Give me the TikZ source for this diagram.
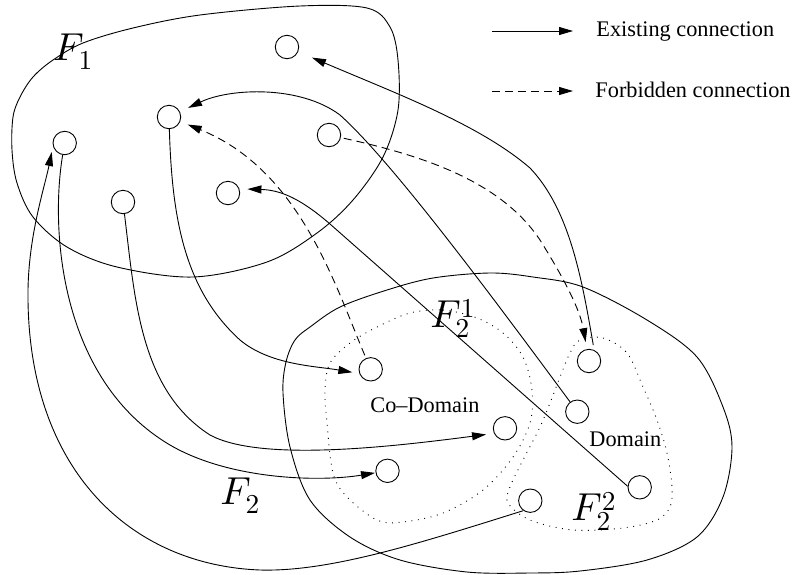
\documentclass[tikz,border=0pt]{standalone}
\usepackage{fontspec}
\setmainfont{Liberation Serif}
\DeclareFontShape{OML}{cmm}{m}{it}{<->cmmi10}{}
\DeclareFontShape{OT1}{cmr}{m}{n}{<->cmr10}{}
\usetikzlibrary{arrows.meta}
\begin{document}
\begin{tikzpicture}[x=1pt,y=-1pt,line width=0.9pt,
  pt/.style={circle,draw,minimum size=23.4pt,inner sep=0pt},
  exist/.style={-{Triangle[length=14pt,width=8pt]}},
  forbid/.style={exist,dash pattern=on 8pt off 5pt},
  dotreg/.style={dash pattern=on 0.9pt off 5.6pt},
  lbl/.style={inner sep=0pt,anchor=base west,font=\fontsize{39}{44}\selectfont},
  txt/.style={inner sep=0pt,anchor=base west,font=\fontsize{22.3}{26}\selectfont}]
\useasboundingbox (0,0) rectangle (795,574);
% regions
\draw plot[smooth cycle,tension=0.55] coordinates {(200,15) (300,6) (367,8) (390,27) (398,60) (398,110) (383,157) (353,200) (317,233) (267,262) (193,277) (117,267) (67,247) (33,217) (17,183) (12,150) (13,117) (20,97) (33,77) (53,60) (83,43) (133,28)};
\draw plot[smooth cycle,tension=0.55] coordinates {(283,393) (290,447) (310,500) (350,537) (400,560) (467,572) (530,573) (580,571) (647,560) (697,537) (723,497) (732,447) (723,407) (697,357) (647,320) (583,287) (533,277) (490,273) (433,278) (387,290) (340,307) (310,327) (295,340) (286,362)};
\draw[dotreg] plot[smooth cycle,tension=0.55] coordinates {(410,313) (443,310) (477,318) (503,333) (523,357) (532,390) (530,423) (513,457) (483,490) (443,513) (403,522) (377,520) (347,497) (333,473) (327,423) (325,390) (330,363) (350,343) (377,327)};
\draw[dotreg] plot[smooth cycle,tension=0.55] coordinates {(580,340) (603,338) (627,353) (643,387) (657,420) (667,453) (672,487) (670,507) (657,520) (623,528) (573,530) (530,520) (508,503) (510,487) (523,460) (540,427) (550,403) (560,377) (570,353)};
% labels
\node[lbl] (F1) at (53,60) {$F_1$};
\node[lbl] (F2) at (220,504) {$F_2$};
\node[lbl] (F21) at (430,327) {$F_2^1$};
\node[lbl] (F22) at (571,520) {$F_2^2$};
\node[txt] (cod) at (370,412) {Co--Domain};
\node[txt] (dom) at (589,446) {Domain};
% points
\node[pt] (a1) at (287,47) {};
\node[pt] (a2) at (169,117) {};
\node[pt] (a3) at (64.7,143) {};
\node[pt] (a4) at (329,135) {};
\node[pt] (a5) at (123,202) {};
\node[pt] (a6) at (228,193) {};
\node[pt] (b1) at (370.7,369.3) {};
\node[pt] (b2) at (505,428.3) {};
\node[pt] (b3) at (387.5,470.8) {};
\node[pt] (b4) at (589,361) {};
\node[pt] (b5) at (577.3,411.7) {};
\node[pt] (b6) at (639.7,487.3) {};
\node[pt] (b7) at (530.3,500.7) {};
% connections
\draw[exist,shorten <=5pt,shorten >=15pt] (b4.65) .. controls (582,280) and (570,210) .. (530,168) .. controls (480,125) and (400,95) .. (a1);
\draw[exist,shorten >=9pt] (b5) .. controls (480,280) and (390,160) .. (340,115) .. controls (300,85) and (230,88) .. (a2);
\draw[forbid,shorten <=3pt,shorten >=8pt] (b1) .. controls (335,285) and (300,170) .. (a2);
\draw[forbid,shorten <=3pt,shorten >=7pt] (a4) .. controls (420,155) and (500,180) .. (540,240) .. controls (565,280) and (580,310) .. (b4);
\draw[exist,shorten >=8pt] (b6.175) -- (330,224) .. controls (300,198) and (280,190) .. (a6.20);
\draw[exist,shorten >=7pt] (a2) .. controls (172,220) and (185,290) .. (240,340) .. controls (270,365) and (315,366) .. (b1.200);
\draw[exist,shorten >=8pt] (a5) .. controls (135,300) and (140,390) .. (210,435) .. controls (260,462) and (390,447) .. (b2.205);
\draw[exist,shorten >=0.5pt] (a3) .. controls (50,230) and (60,380) .. (170,445) .. controls (230,480) and (320,482) .. (b3);
\draw[exist,shorten >=6pt] (b7.235) .. controls (420,543) and (330,572) .. (260,570) .. controls (130,565) and (30,470) .. (28,300) .. controls (27,240) and (44,190) .. (a3.195);
% legend
\coordinate (l1s) at (492,31);
\coordinate (l1e) at (573,31);
\coordinate (l2s) at (492,91);
\coordinate (l2e) at (573,91);
\draw[exist] (l1s) -- (l1e);
\draw[forbid] (l2s) -- (l2e);
\node[txt] (leg1) at (596,36) {Existing connection};
\node[txt] (leg2) at (595,97) {Forbidden connection};
\end{tikzpicture}
\end{document}
